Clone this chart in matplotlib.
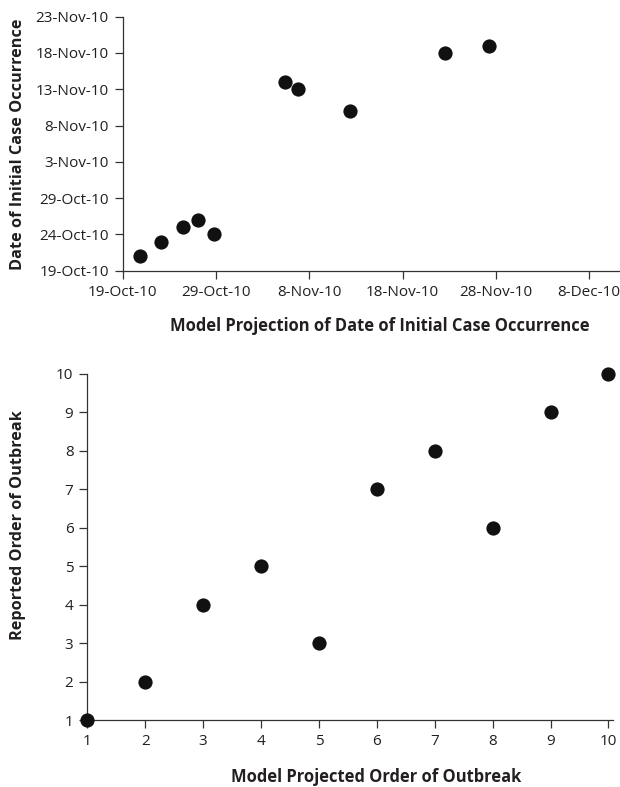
import matplotlib
matplotlib.use("Agg")
import matplotlib.pyplot as plt
import matplotlib.dates as mdates
import numpy as np
import pandas as pd

# ---- data: top panel (dates) ----
model_dates = ["2010-10-20 22:00", "2010-10-23 02:00", "2010-10-25 12:00",
               "2010-10-27 02:00", "2010-10-28 18:00", "2010-11-05 10:00",
               "2010-11-06 19:00", "2010-11-12 10:00", "2010-11-22 14:00",
               "2010-11-27 05:00"]
reported_dates = ["2010-10-21", "2010-10-23", "2010-10-25", "2010-10-26",
                  "2010-10-24", "2010-11-14", "2010-11-13", "2010-11-10",
                  "2010-11-18", "2010-11-19"]
top_xticks = ["2010-10-19", "2010-10-29", "2010-11-08", "2010-11-18",
              "2010-11-28", "2010-12-08"]
top_yticks = ["2010-10-19", "2010-10-24", "2010-10-29", "2010-11-03",
              "2010-11-08", "2010-11-13", "2010-11-18", "2010-11-23"]

# ---- data: bottom panel (order) ----
model_order = [1, 2, 3, 4, 5, 6, 7, 8, 9, 10]
reported_order = [1, 2, 4, 5, 3, 7, 8, 6, 9, 10]
order_ticks = [1, 2, 3, 4, 5, 6, 7, 8, 9, 10]

plt.rcParams['font.family'] = ['Open Sans', 'DejaVu Sans']
TXT = '#231f20'
SP = '#333333'

fig = plt.figure(figsize=(6.2, 7.87), dpi=100)

def style(ax):
    for s in ['top', 'right']:
        ax.spines[s].set_visible(False)
    for s in ['left', 'bottom']:
        ax.spines[s].set_color(SP)
        ax.spines[s].set_linewidth(0.9)
    ax.tick_params(direction='out', length=6, width=0.9, color=SP,
                   labelsize=11, labelcolor=TXT, pad=4)

# top axes
ax1 = fig.add_axes([0.1977, 0.656, 0.801, 0.3228])
style(ax1)
mx = pd.to_datetime(model_dates)
ry = pd.to_datetime(reported_dates)
ax1.scatter(mx, ry, s=105, color='#111111', zorder=3, clip_on=False, linewidths=0)
xt = pd.to_datetime(top_xticks)
yt = pd.to_datetime(top_yticks)
ax1.set_xticks(xt)
ax1.set_yticks(yt)
ax1.xaxis.set_major_formatter(mdates.DateFormatter('%-d-%b-%y'))
ax1.yaxis.set_major_formatter(mdates.DateFormatter('%-d-%b-%y'))
ax1.set_xlim(pd.Timestamp("2010-10-19"), pd.Timestamp("2010-12-11 05:00"))
ax1.set_ylim(yt[0], yt[-1])

fig.text(380 / 620, 1 - 326 / 787, "Model Projection of Date of Initial Case Occurrence",
         ha='center', va='center', fontsize=11.9, fontweight='bold', color=TXT)
fig.text(18 / 620, 1 - 144 / 787, "Date of Initial Case Occurrence",
         ha='center', va='center', rotation=90, fontsize=11.7, fontweight='bold', color=TXT)

# bottom axes
ax2 = fig.add_axes([0.1408, 0.0851, 0.848, 0.4397])
style(ax2)
ax2.scatter(model_order, reported_order, s=105, color='#111111', zorder=3,
            clip_on=False, linewidths=0)
ax2.set_xticks(order_ticks)
ax2.set_yticks(order_ticks)
ax2.set_xlim(1, 10.08)
ax2.set_ylim(1, 10)

fig.text(376 / 620, 1 - 777 / 787, "Model Projected Order of Outbreak",
         ha='center', va='center', fontsize=11.9, fontweight='bold', color=TXT)
fig.text(18 / 620, 1 - 525 / 787, "Reported Order of Outbreak",
         ha='center', va='center', rotation=90, fontsize=11.7, fontweight='bold', color=TXT)

fig.savefig("out.png", dpi=100)
